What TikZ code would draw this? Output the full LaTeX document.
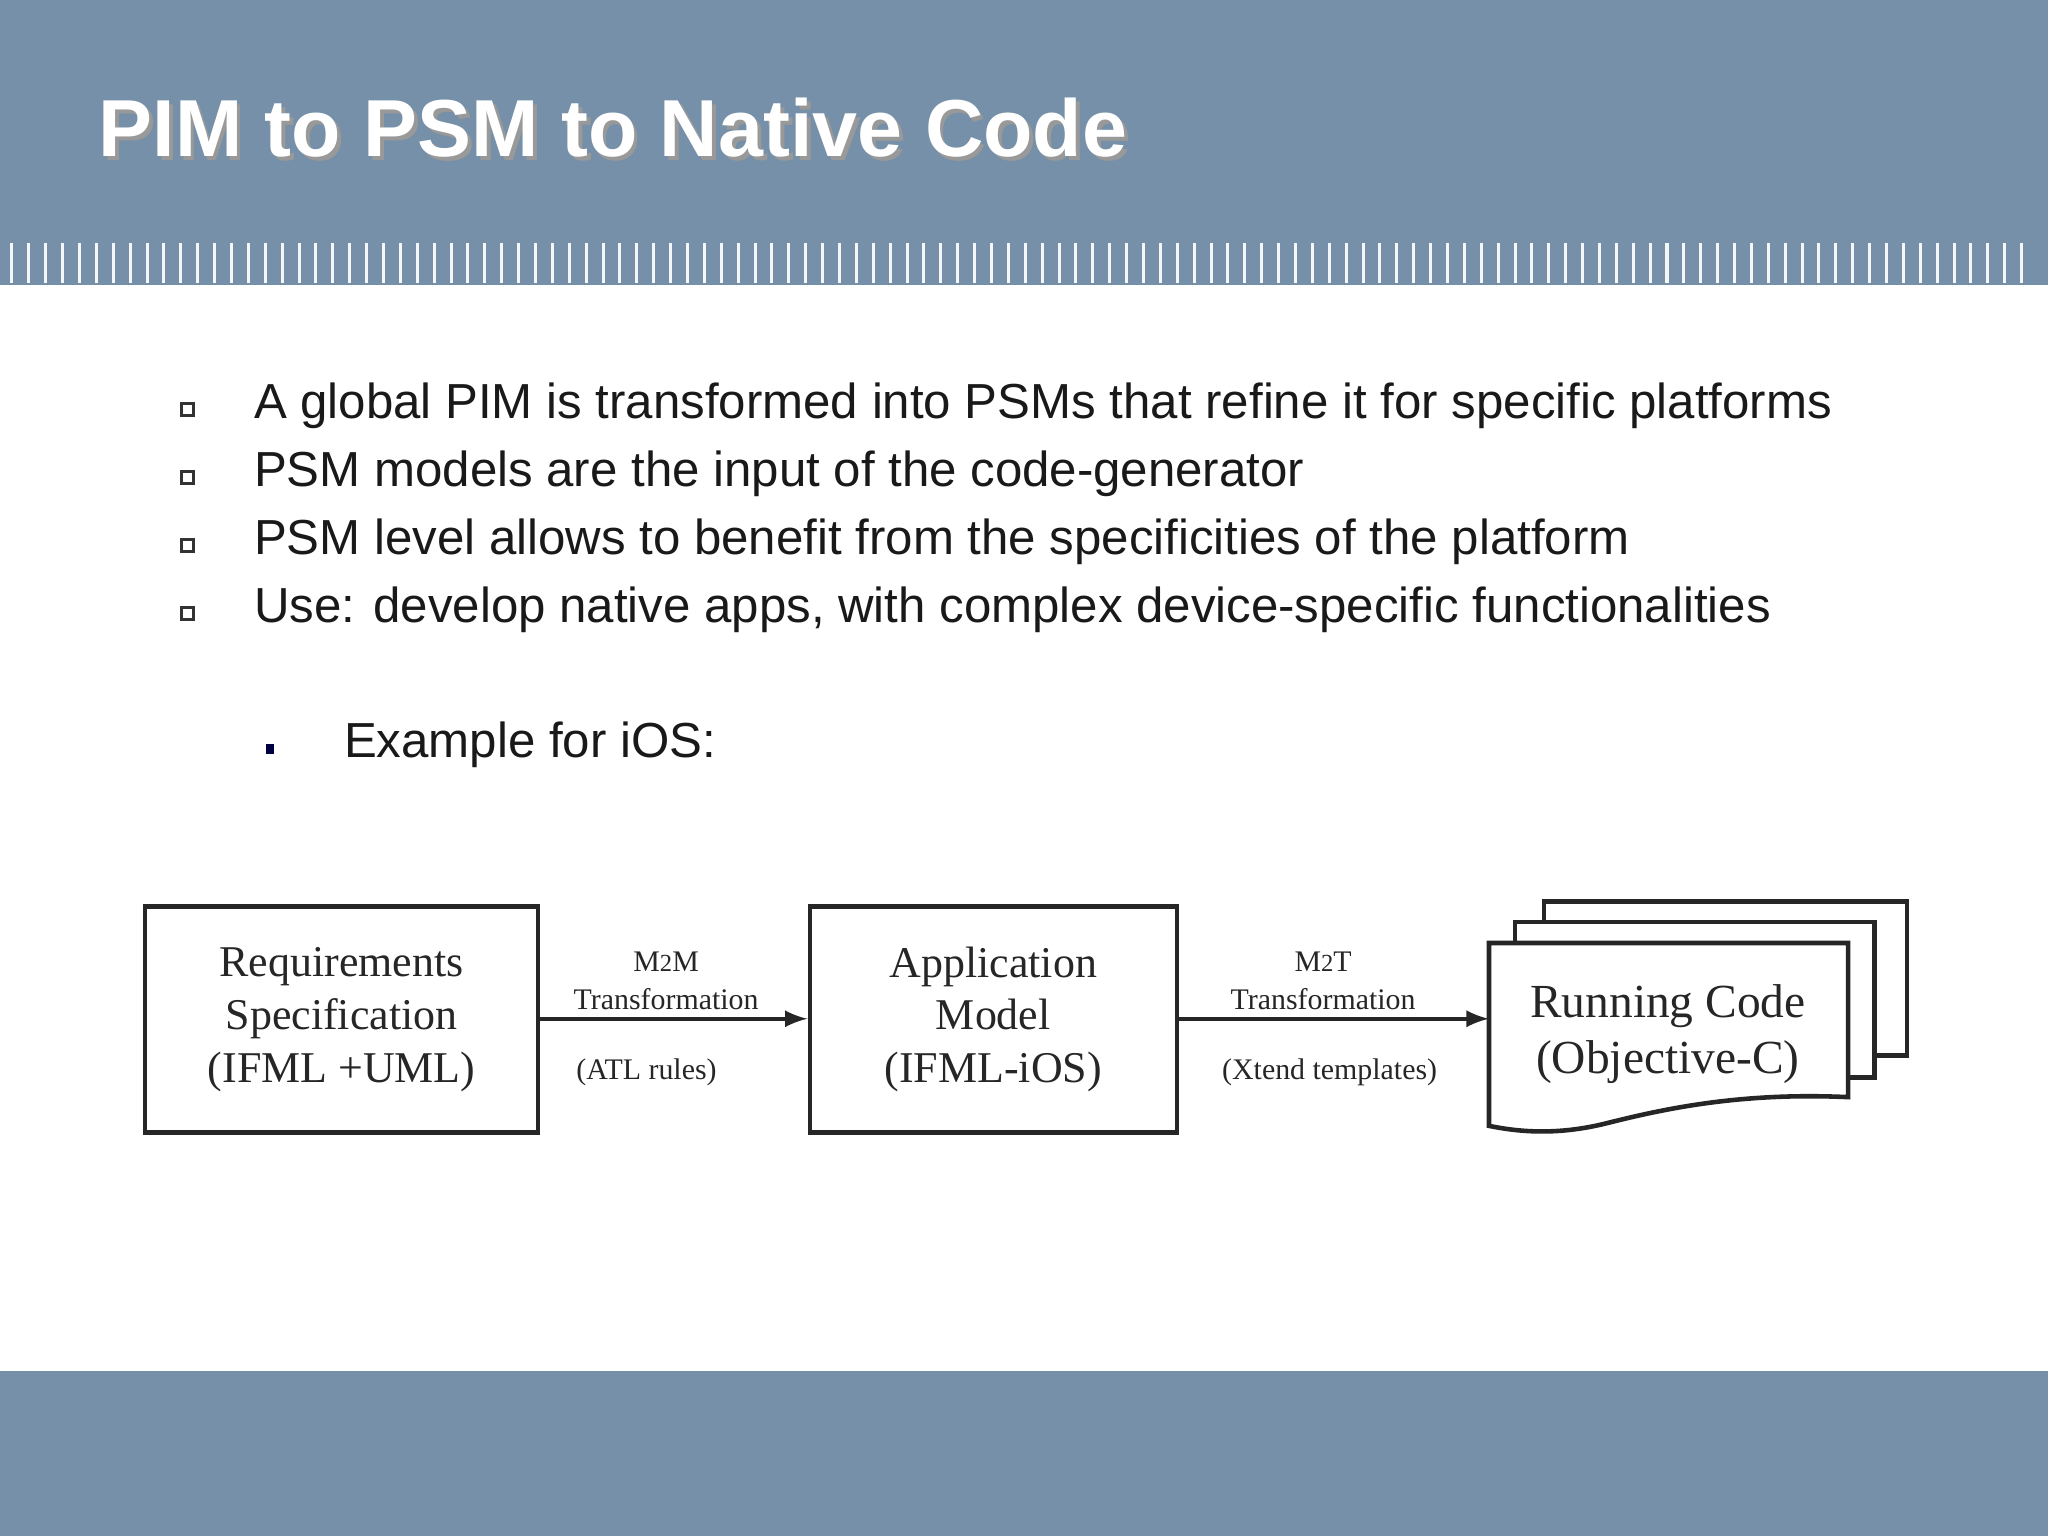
\documentclass[tikz,border=0pt]{standalone}
\usepackage{fontspec}
\setmainfont{Liberation Serif}
\newfontfamily\sans{Liberation Sans}
\begin{document}
\begin{tikzpicture}[x=0.013061cm,y=-0.013061cm,
  box/.style={draw=black!85,line width=1.3pt,fill=white},
  diag/.style={font=\fontsize{12.5}{15}\selectfont,align=center,text=black!85},
  lab/.style={font=\fontsize{8.5}{10}\selectfont,text=black!85},
  arr/.style={-latex,line width=1.2pt,black!85},
  btext/.style={anchor=west,font=\sans\fontsize{14}{17}\selectfont,text=black!90}]
\definecolor{band}{HTML}{7590A8}
\useasboundingbox (0,0) rectangle (1568,1176);
\fill[white] (0,0) rectangle (1568,1176);
\fill[band] (0,0) rectangle (1568,218);
\foreach \i in {0,...,119} \fill[white!92!band] (8+\i*12.93,186) rectangle (10.3+\i*12.93,217);
\fill[band] (0,1050) rectangle (1568,1176);
\node[anchor=west,font=\sans\bfseries\fontsize{23}{28}\selectfont,text=black!40] (tsh) at (69,101) {PIM to PSM to Native Code};
\node[anchor=west,font=\sans\bfseries\fontsize{23}{28}\selectfont,text=white] (title) at (66,98) {PIM to PSM to Native Code};
\foreach \y/\t [count=\k] in {311/A global PIM is transformed into PSMs that refine it for specific platforms,
  363/PSM models are the input of the code-generator,
  415/PSM level allows to benefit from the specificities of the platform,
  467/Use: develop native apps\text{,} with complex device-specific functionalities}{
  \draw[black!80,line width=0.8pt] (139,309) ++(0,\y-311) rectangle ++(9,9);
}
\node[btext] (b1) at (185,311) {A global PIM is transformed into PSMs that refine it for specific platforms};
\node[btext] (b2) at (185,363) {PSM models are the input of the code-generator};
\node[btext] (b3) at (185,415) {PSM level allows to benefit from the specificities of the platform};
\node[btext] (b4) at (185,467) {Use: develop native apps, with complex device-specific functionalities};
\fill[black!75!blue] (204,570) rectangle (210,577);
\node[btext] (s1) at (254,570) {Example for iOS:};
% diagram
\node[box,minimum width=301*0.013061cm,minimum height=173*0.013061cm,diag] (req) at (261.5,780.5) {Requirements\\Specification\\(IFML +UML)};
\node[box,minimum width=281*0.013061cm,minimum height=173*0.013061cm,diag] (app) at (760.5,780.5) {Application\\Model\\(IFML-iOS)};
\draw[box] (1182,690) rectangle (1460,808);
\draw[box] (1160,706) rectangle (1435,825);
\draw[box] (1140,722) -- (1415,722) -- (1415,840) .. controls (1330,836) and (1270,850) .. (1230,860) .. controls (1190,870) and (1160,866) .. (1140,862) -- cycle;
\node[diag,font=\fontsize{13.5}{16}\selectfont] (run) at (1277,792) {Running Code\\(Objective-C)};
\coordinate (runw) at (1140,780);
\draw[arr] (req.east|-0,780) -- (app.west|-0,780);
\draw[arr] (app.east|-0,780) -- (runw);
\node[lab] (m2m) at (510,736) {M{\scriptsize 2}M};
\node[lab] (t1) at (510,765) {Transformation};
\node[lab] (atl) at (495,821) {(ATL rules)};
\node[lab] (m2t) at (1013,736) {M{\scriptsize 2}T};
\node[lab] (t2) at (1013,765) {Transformation};
\node[lab] (xt) at (1018,821) {(Xtend templates)};
\end{tikzpicture}
\end{document}
